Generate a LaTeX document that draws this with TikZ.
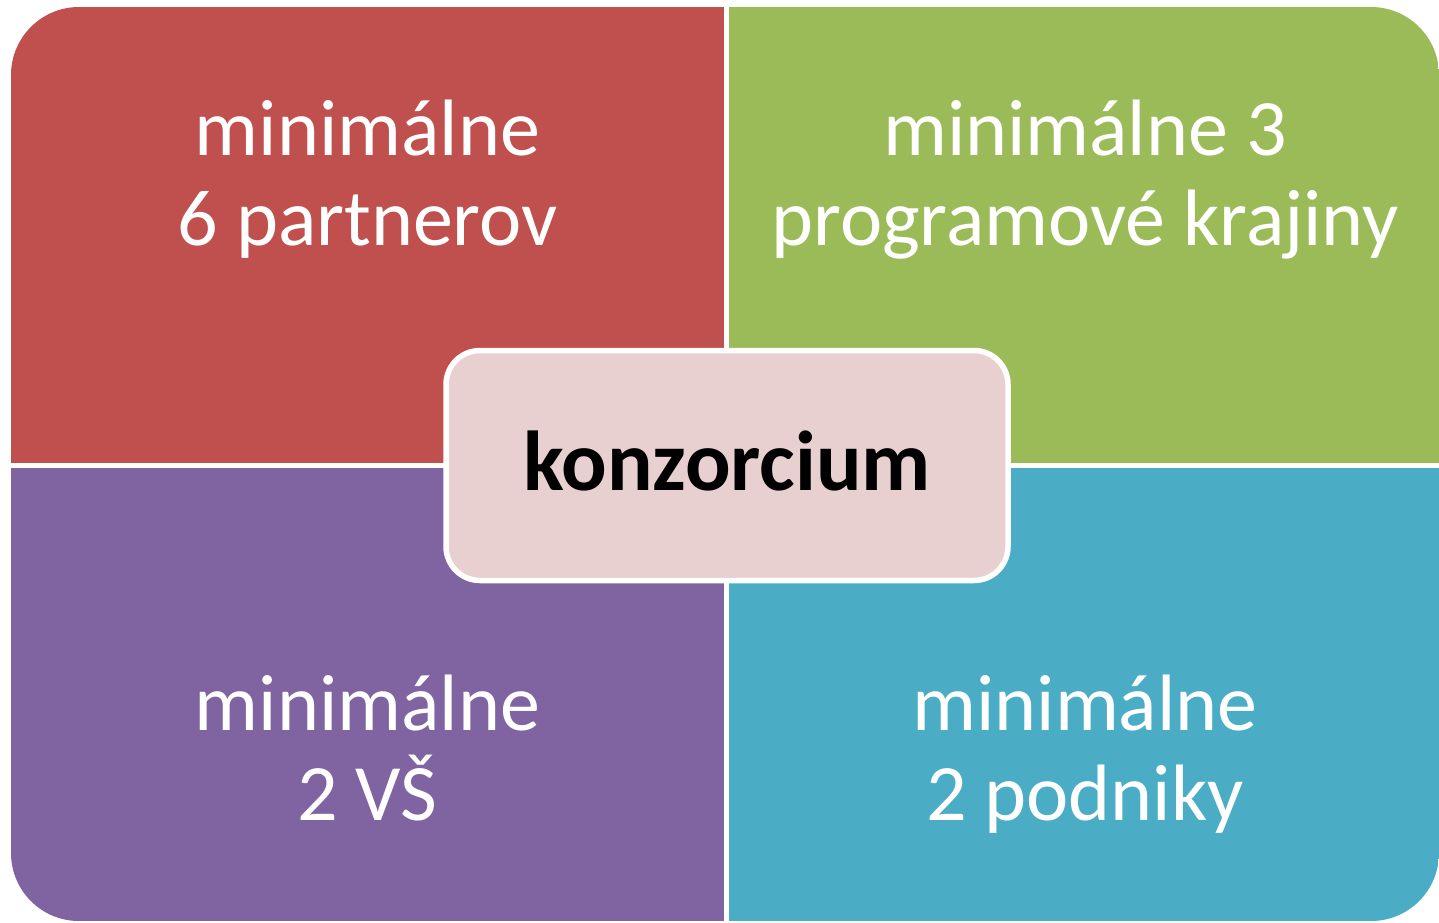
\documentclass[tikz,border=0pt]{standalone}
\usepackage{fontspec}
\setmainfont{Carlito}
\usepackage{xcolor}
\usepackage{tikz}
\usetikzlibrary{positioning}
\definecolor{quadred}{RGB}{192,80,77}
\definecolor{quadgreen}{RGB}{155,187,89}
\definecolor{quadpurple}{RGB}{128,100,162}
\definecolor{quadblue}{RGB}{75,172,198}
\definecolor{centerpink}{RGB}{232,208,209}

\begin{document}
\begin{tikzpicture}[x=0.5pt,y=-0.5pt,
  quadtext/.style={white,align=center,anchor=base,font=\fontsize{40}{45}\selectfont},
  centerbox/.style={draw=white,line width=2.75pt,fill=centerpink,rounded corners=17pt,
    minimum width=281pt,minimum height=115pt,text height=24.5pt,text depth=0pt,
    font=\fontsize{42.5}{50}\selectfont\bfseries}]
  \useasboundingbox (0,0) rectangle (1439,922);
  \begin{scope}
    \clip[rounded corners=34pt] (11,7) rectangle (1439,921);
    \fill[quadred] (11,7) rectangle (724,463);
    \fill[quadgreen] (729,7) rectangle (1439,463);
    \fill[quadpurple] (11,468) rectangle (724,921);
    \fill[quadblue] (729,468) rectangle (1439,921);
  \end{scope}
  % anchor=base sits on the last line
  \node[quadtext] (partneri) at (367.5,245) {minimálne\\6 partnerov};
  \node[quadtext] (krajiny) at (1085,245) {minimálne 3\\programové krajiny};
  \node[quadtext] (vs) at (367.5,820) {minimálne\\2 VŠ};
  \node[quadtext] (podniky) at (1085,820) {minimálne\\2 podniky};
  \node[centerbox] (konz) at (727,465.5) {konzorcium};
\end{tikzpicture}
\end{document}
